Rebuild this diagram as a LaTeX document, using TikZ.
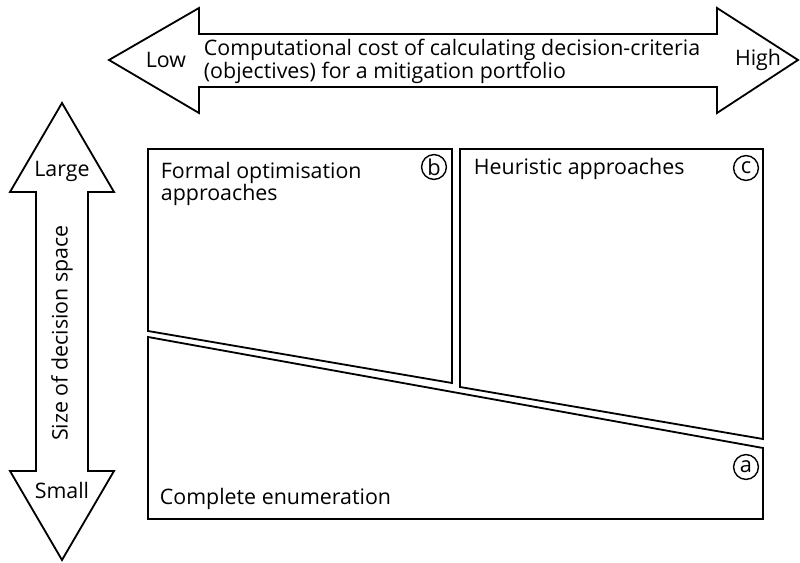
\documentclass[tikz,border=0pt]{standalone}
\usepackage{fontspec}
\setmainfont{Open Sans}
\begin{document}
\begin{tikzpicture}[x=0.025cm,y=-0.025cm,line width=1.3pt]
    \tikzset{
        txt/.style={font=\fontsize{15.2}{13.5}\selectfont, inner sep=0pt},
        circtag/.style={draw, circle, line width=1pt, minimum size=0.62cm, inner sep=0pt, font=\fontsize{15.5}{15.5}\selectfont},
    }
    \useasboundingbox (0,0) rectangle (800,563);

    %Cost arrow (left and right heads)
    \draw (109,60) -- (199,8) -- (199,34) -- (717,34) -- (717,8) -- (798,60) -- (717,113) -- (717,87) -- (199,87) -- (199,113) -- cycle;
    \node[txt] (low) at (166,60) {Low};
    \node[txt] (high) at (758,60) {High};
    \node[txt, align=left, anchor=west] (cost) at (203,61) {Computational cost of calculating decision-criteria\\(objectives) for a mitigation portfolio};

    %Decision space arrow (up and down heads)
    \draw (62,103) -- (114,192) -- (88,192) -- (88,471) -- (114,471) -- (62,560) -- (10,471) -- (36,471) -- (36,192) -- (10,192) -- cycle;
    \node[txt] (large) at (62,171) {Large};
    \node[txt] (small) at (62,490) {Small};
    \node[txt, rotate=90] (size) at (62,333) {Size of decision space};

    %Box b
    \draw (148,149) -- (452,149) -- (452,383) -- (148,331) -- cycle;
    \node[txt, align=left, anchor=north west] (formal) at (160,161) {Formal optimisation\\approaches};
    \node[circtag] (tagb) at (434,167) {b};

    %Box c
    \draw (460,149) -- (763,149) -- (763,439) -- (460,387) -- cycle;
    \node[txt, anchor=base west] (heur) at (473,175) {Heuristic approaches};
    \node[circtag] (tagc) at (746,168) {c};

    %Box a
    \draw (148,337) -- (763,448) -- (763,519) -- (148,519) -- cycle;
    \node[txt, anchor=base west] (enum) at (159,504) {Complete enumeration};
    \node[circtag] (taga) at (746,467) {a};

\end{tikzpicture}
\end{document}
